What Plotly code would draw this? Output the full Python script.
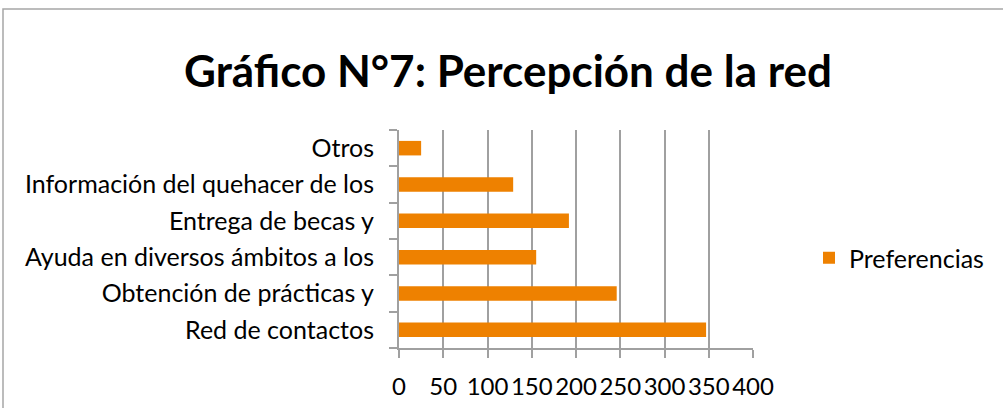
import plotly.graph_objects as go

categories = ["Red de contactos", "Obtención de prácticas y", "Ayuda en diversos ámbitos a los",
              "Entrega de becas y", "Información del quehacer de los", "Otros"]
values = [347, 246, 155, 192, 129, 25]
series_name = "Preferencias"
x_ticks = [0, 50, 100, 150, 200, 250, 300, 350, 400]

W, H = 1003, 408
L, R, T, B = 399, 250, 130, 60
pw, ph = W - L - R, H - T - B

fig = go.Figure(go.Bar(
    y=categories, x=values, orientation="h", name=series_name,
    marker=dict(color="#EE8100", line=dict(width=0)),
    showlegend=True,
))

font = "Lato"
fs = 25
fig.update_layout(
    width=W, height=H,
    margin=dict(l=L, r=R, t=T, b=B, pad=0, autoexpand=False),
    paper_bgcolor="white", plot_bgcolor="white",
    bargap=0.6,
    title=dict(text="<b>Gráfico N°7: Percepción de la red</b>",
               font=dict(family="Lato", size=44, color="black"),
               x=508 / W, xanchor="center", y=1 - 72 / H, yanchor="middle"),
    legend=dict(x=(809 - L) / pw, xanchor="left", y=1 - (258 - T) / ph, yanchor="middle",
                font=dict(family=font, size=fs, color="black"),
                itemwidth=30, bgcolor="rgba(0,0,0,0)"),
    font=dict(family=font, size=fs, color="black"),
)
fig.update_xaxes(
    range=[0, 400], tickvals=x_ticks, ticktext=[str(v) for v in x_ticks],
    tickangle=0,
    showgrid=True, gridcolor="#A0A0A0", gridwidth=2,
    showline=True, linecolor="#A0A0A0", linewidth=2,
    ticks="outside", ticklen=8, tickcolor="#A0A0A0", tickwidth=2,
    tickfont=dict(family=font, size=24, color="black"),
    ticklabelstandoff=8, zeroline=False,
)
fig.update_yaxes(
    categoryorder="array", categoryarray=categories,
    showline=True, linecolor="#A0A0A0", linewidth=2,
    ticks="outside", ticklen=8, tickcolor="#A0A0A0", tickwidth=2,
    tickson="boundaries", showgrid=False,
    tickfont=dict(family=font, size=fs, color="black"),
    ticklabelstandoff=18,
)
# outer chart border
fig.add_shape(type="rect", xref="paper", yref="paper",
              x0=(3 - L) / pw, x1=(W + 20 - L) / pw,
              y0=1 - (H + 20 - T) / ph, y1=1 + (T - 9) / ph,
              line=dict(color="#A6A6A6", width=1.5), layer="below")

fig.write_html("out.html", config={"displayModeBar": False},
               post_script="document.body.style.margin='0';document.body.style.overflow='hidden';")
